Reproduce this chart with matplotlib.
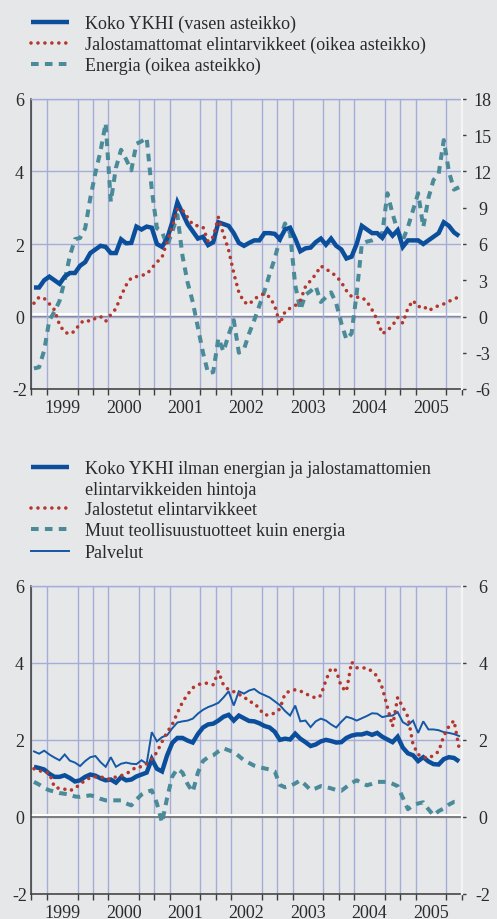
import matplotlib
matplotlib.use('Agg')
import matplotlib.pyplot as plt
from matplotlib.lines import Line2D
import matplotlib.patheffects as pe
import numpy as np

plt.rcParams['font.family'] = ['Liberation Serif', 'DejaVu Serif']
plt.rcParams['axes.unicode_minus'] = False
plt.rcParams['lines.scale_dashes'] = False

# ---------------- data ----------------
years = ['1999', '2000', '2001', '2002', '2003', '2004', '2005']

# top panel (monthly, Jan 1999 - Dec 2005)
koko_ykhi = [0.8, 0.8, 1.0, 1.1, 1.0, 0.9, 1.1, 1.2, 1.2, 1.4, 1.5, 1.75,
             1.85, 1.95, 1.92, 1.75, 1.75, 2.13, 2.02, 2.03, 2.48, 2.40, 2.48, 2.45,
             2.0, 1.92, 2.15, 2.6, 3.15, 2.85, 2.55, 2.35, 2.15, 2.2, 1.97, 2.05,
             2.6, 2.55, 2.5, 2.3, 2.03, 1.95, 2.03, 2.1, 2.1, 2.3, 2.3, 2.28,
             2.13, 2.4, 2.45, 2.15, 1.8, 1.88, 1.9, 2.05, 2.15, 1.98, 2.15, 1.95,
             1.85, 1.6, 1.65, 2.0, 2.5, 2.4, 2.3, 2.3, 2.17, 2.4, 2.23, 2.38,
             1.92, 2.1, 2.1, 2.1, 2.0, 2.1, 2.2, 2.3, 2.6, 2.5, 2.32, 2.22]

jalostamattomat = [1.1, 1.6, 1.5, 1.05, 0.55, -0.7, -1.3, -1.45, -1.2, -0.55, -0.3, -0.4,
                   -0.15, 0.0, -0.4, 0.15, 0.65, 1.7, 2.6, 3.2, 3.3, 3.4, 3.5, 4.0,
                   4.5, 4.9, 6.2, 7.4, 8.9, 8.8, 8.2, 7.6, 7.5, 7.4, 6.2, 6.6,
                   8.2, 6.8, 5.5, 3.6, 2.0, 1.2, 1.0, 1.45, 1.7, 1.9, 1.6, 0.9,
                   -0.6, 0.38, 0.69, 0.9, 1.32, 2.47, 2.97, 3.49, 4.18, 3.93, 3.65, 3.35,
                   2.83, 2.14, 1.65, 1.59, 1.59, 1.24, 0.55, -0.27, -1.43, -1.15, -0.74, -0.08,
                   -0.55, 0.69, 1.32, 0.8, 0.88, 0.49, 0.69, 0.91, 1.04, 1.26, 1.43, 1.65]

energia = [-4.3, -4.2, -2.8, -0.3, 0.4, 1.3, 3.0, 5.0, 6.4, 6.5, 7.3, 9.8,
           11.9, 13.7, 16.0, 9.5, 12.3, 13.8, 13.0, 12.1, 14.3, 14.5, 14.8, 10.5,
           7.3, 7.0, 5.9, 7.0, 8.4, 5.0, 2.8, 1.2, -0.9, -3.0, -4.7, -4.6,
           -1.8, -2.9, -1.5, -0.3, -3.0, -2.7, -1.4, -0.3, 0.9, 2.1, 3.5, 4.8,
           6.4, 7.7, 6.9, 2.6, 0.55, 1.8, 2.1, 2.5, 1.2, 1.6, 2.0, 1.1,
           -0.55, -1.9, -1.4, 1.9, 6.0, 6.2, 6.3, 6.5, 6.9, 10.2, 8.5, 7.1,
           6.3, 7.4, 8.8, 10.2, 7.4, 9.8, 11.3, 11.8, 14.6, 12.0, 10.5, 10.7]

# bottom panel
ydin = [1.30, 1.27, 1.23, 1.12, 1.04, 1.04, 1.08, 1.01, 0.92, 0.95, 1.04, 1.10,
        1.07, 1.0, 0.95, 0.97, 0.89, 1.03, 0.95, 0.97, 1.05, 1.1, 1.15, 1.5,
        1.25, 1.18, 1.6, 1.92, 2.05, 2.05, 1.98, 1.93, 2.15, 2.32, 2.4, 2.42,
        2.5, 2.6, 2.65, 2.5, 2.63, 2.56, 2.49, 2.48, 2.43, 2.36, 2.32, 2.21,
        2.0, 2.03, 2.01, 2.16, 2.03, 1.94, 1.84, 1.88, 1.96, 2.0, 1.97, 1.93,
        1.94, 2.05, 2.11, 2.14, 2.14, 2.18, 2.13, 2.18, 2.08, 2.01, 1.94, 2.08,
        1.8, 1.65, 1.6, 1.45, 1.55, 1.44, 1.37, 1.36, 1.5, 1.55, 1.53, 1.44]

jalostetut = [1.25, 1.2, 1.17, 1.14, 0.77, 0.74, 0.72, 0.68, 0.74, 0.85, 0.95, 1.02,
              1.04, 1.05, 0.98, 0.98, 1.04, 1.07, 1.12, 1.2, 1.3, 1.3, 1.38, 1.5,
              1.68, 1.95, 2.2, 2.4, 2.7, 2.98, 3.18, 3.35, 3.43, 3.47, 3.47, 3.43,
              3.78, 3.42, 3.3, 3.25, 3.18, 3.12, 2.99, 2.96, 2.8, 2.65, 2.64, 2.7,
              2.8, 3.2, 3.27, 3.3, 3.27, 3.19, 3.15, 3.08, 3.15, 3.55, 3.86, 3.8,
              3.38, 3.26, 4.02, 3.87, 3.87, 3.86, 3.78, 3.65, 3.35, 2.85, 2.35, 3.1,
              2.85, 2.6, 1.88, 1.62, 1.55, 1.52, 1.6, 1.7, 2.1, 2.35, 2.5, 1.78]

muut_teollisuus = [0.91, 0.84, 0.75, 0.69, 0.66, 0.62, 0.6, 0.58, 0.53, 0.52, 0.54, 0.56,
                   0.53, 0.47, 0.43, 0.43, 0.43, 0.43, 0.35, 0.3, 0.45, 0.58, 0.65, 0.69,
                   0.35, -0.15, 0.5, 1.05, 1.25, 1.15, 0.85, 0.65, 1.15, 1.45, 1.55, 1.6,
                   1.7, 1.78, 1.73, 1.68, 1.58, 1.47, 1.4, 1.33, 1.29, 1.26, 1.23, 1.18,
                   0.83, 0.77, 0.8, 0.87, 0.95, 0.83, 0.7, 0.74, 0.8, 0.78, 0.74, 0.7,
                   0.68, 0.78, 0.88, 0.95, 0.88, 0.82, 0.86, 0.91, 0.91, 0.91, 0.86, 0.8,
                   0.5, 0.2, 0.3, 0.35, 0.38, 0.2, 0.04, 0.15, 0.22, 0.32, 0.39, 0.39]

palvelut = [1.70, 1.64, 1.72, 1.62, 1.54, 1.47, 1.62, 1.46, 1.41, 1.32, 1.45, 1.55,
            1.58, 1.42, 1.3, 1.55, 1.3, 1.38, 1.41, 1.38, 1.37, 1.47, 1.38, 2.2,
            1.96, 2.07, 2.12, 2.3, 2.45, 2.48, 2.5, 2.55, 2.68, 2.78, 2.85, 2.9,
            2.96, 3.1, 3.26, 2.89, 3.26, 3.2, 3.28, 3.32, 3.22, 3.16, 3.1, 3.0,
            2.9, 2.75, 2.63, 2.89, 2.48, 2.5, 2.33, 2.48, 2.55, 2.5, 2.4, 2.32,
            2.47, 2.6, 2.56, 2.5, 2.56, 2.62, 2.69, 2.68, 2.59, 2.62, 2.63, 2.72,
            2.46, 2.38, 2.5, 2.18, 2.48, 2.27, 2.27, 2.25, 2.2, 2.18, 2.15, 2.1]

labels_top = ['Koko YKHI (vasen asteikko)',
              'Jalostamattomat elintarvikkeet (oikea asteikko)',
              'Energia (oikea asteikko)']
labels_bot = ['Koko YKHI ilman energian ja jalostamattomien\nelintarvikkeiden hintoja',
              'Jalostetut elintarvikkeet',
              'Muut teollisuustuotteet kuin energia',
              'Palvelut']

# ---------------- styles ----------------
W, H = 497, 920
BG = '#e6e7e9'
GRID = '#a4acd8'
TEXT = '#2a2a2a'
BLUE = '#0b4f9c'
BLUE_THIN = '#1458a6'
RED = '#b3372d'
TEAL = '#4b8b99'
FS = 13

thick = dict(color=BLUE, lw=3.2, solid_joinstyle='miter', solid_capstyle='butt')
thin = dict(color=BLUE_THIN, lw=1.4, solid_joinstyle='miter')
dots = dict(color=RED, lw=2.6, linestyle=(0, (0.01, 5.0)), dash_capstyle='round')
dashes = dict(color=TEAL, lw=2.9, linestyle=(0, (5.5, 4.5)), dash_capstyle='butt')

x = np.arange(len(koko_ykhi)) + 0.5

fig = plt.figure(figsize=(W / 100, H / 100), dpi=100, facecolor=BG)


def rect(left_px, top_px, right_px, bottom_px):
    return [left_px / W, 1 - bottom_px / H, (right_px - left_px) / W, (bottom_px - top_px) / H]


def setup_x(ax):
    ax.set_xlim(0, 84)
    ax.set_xticks(np.arange(6, 84, 12))
    ax.set_xticklabels(years)
    ax.set_xticks(np.arange(0, 85, 3), minor=True)
    ax.tick_params(axis='x', which='major', length=0, pad=7.5, labelsize=FS, labelcolor=TEXT)
    ax.tick_params(axis='x', which='minor', length=4, width=1.0, color='#3c3c3c', direction='out')


def zero_line(ax):
    ax.axhline(0, color='#7d7d7d', lw=1.4, zorder=1.5,
               path_effects=[pe.SimpleLineShadow(offset=(0, 1.5), shadow_color='white', alpha=1.0),
                             pe.Normal()])


def style_spines(ax, left=False, bottom=False, top=False, right=False):
    for s in ax.spines.values():
        s.set_visible(False)
    if left:
        ax.spines['left'].set_visible(True)
        ax.spines['left'].set_color('#3a3a3a')
        ax.spines['left'].set_linewidth(1.1)
    if bottom:
        ax.spines['bottom'].set_visible(True)
        ax.spines['bottom'].set_color('#3a3a3a')
        ax.spines['bottom'].set_linewidth(1.1)
    if top:
        ax.spines['top'].set_visible(True)
        ax.spines['top'].set_color(GRID)
        ax.spines['top'].set_linewidth(1.0)
    if right:
        ax.spines['right'].set_visible(True)
        ax.spines['right'].set_color('#f4f4f4')
        ax.spines['right'].set_linewidth(1.6)


# ---------------- top panel ----------------
axL = fig.add_axes(rect(31.4, 100, 461.7, 390))
axT = axL.twinx()
axR = axL.twinx()
axT.set_zorder(0)
axL.set_zorder(1)
axR.set_zorder(2)
axT.patch.set_visible(True)
axT.patch.set_facecolor(BG)
axL.patch.set_visible(False)
axR.patch.set_visible(False)

setup_x(axL)
axT.xaxis.set_visible(True)
axT.tick_params(axis='x', which='both', length=0, labelbottom=False, labeltop=False)
axT.grid(True, axis='x', which='minor', color=GRID, lw=1.0)
axT.set_ylim(-6, 18)
axT.set_yticks([-6, 0, 6, 12, 18])
axT.tick_params(axis='y', length=0, labelright=False, labelleft=False)
axT.grid(True, axis='y', which='major', color=GRID, lw=1.0)
zero_line(axT)
axT.plot(x, energia, zorder=2, **dashes)

axL.set_ylim(-2, 6)
axL.set_yticks([-2, 0, 2, 4, 6])
axL.tick_params(axis='y', length=0, pad=8.7, labelsize=FS, labelcolor=TEXT)
plt.setp(axL.get_yticklabels(), ha='center')
axL.plot(x, koko_ykhi, zorder=3, **thick)

axR.set_ylim(-6, 18)
axR.set_yticks(np.arange(-6, 19, 3))
axR.tick_params(axis='y', length=3, width=1.0, color='#3c3c3c', pad=12.1,
                labelsize=FS, labelcolor=TEXT)
plt.setp(axR.get_yticklabels(), ha='center')
axR.plot(x, jalostamattomat, zorder=4, **dots)

style_spines(axT)
style_spines(axL, left=True, bottom=True, top=True)
style_spines(axR, right=True)

# ---------------- bottom panel ----------------
axB = fig.add_axes(rect(31.4, 586.7, 461.7, 895))
axB.set_facecolor(BG)
setup_x(axB)
axB.set_ylim(-2, 6)
axB.set_yticks([-2, 0, 2, 4, 6])
axB.tick_params(axis='y', length=0, pad=8.7, labelsize=FS, labelcolor=TEXT)
plt.setp(axB.get_yticklabels(), ha='center')
axB.grid(True, axis='x', which='minor', color=GRID, lw=1.0)
axB.grid(True, axis='y', which='major', color=GRID, lw=1.0)
axB.set_axisbelow(True)
zero_line(axB)
axB.plot(x, muut_teollisuus, zorder=2, **dashes)
axB.plot(x, palvelut, zorder=3, **thin)
axB.plot(x, ydin, zorder=3.5, **thick)
axB.plot(x, jalostetut, zorder=4, **dots)
style_spines(axB, left=True, bottom=True, top=True)

axB2 = axB.twinx()
axB2.set_ylim(-2, 6)
axB2.set_yticks([-2, 0, 2, 4, 6])
axB2.tick_params(axis='y', length=3, width=1.0, color='#3c3c3c', pad=12.1,
                 labelsize=FS, labelcolor=TEXT)
plt.setp(axB2.get_yticklabels(), ha='center')
style_spines(axB2, right=True)


# ---------------- legends ----------------
def legend_entry(y_px, style, label, x0=31, x1=69, xt=85):
    fig.add_artist(Line2D([x0 / W, x1 / W], [1 - y_px / H] * 2,
                          transform=fig.transFigure, **style))
    fig.text(xt / W, 1 - y_px / H, label, ha='left', va='center_baseline',
             fontsize=FS, color=TEXT, linespacing=1.1)


legend_entry(22.7, thick, labels_top[0])
legend_entry(43.5, dots, labels_top[1])
legend_entry(64.5, dashes, labels_top[2])

# first bottom entry: two-line label, handle aligned with first line
fig.add_artist(Line2D([31 / W, 69 / W], [1 - 468 / H] * 2, transform=fig.transFigure, **thick))
fig.text(85 / W, 1 - 468 / H, labels_bot[0].split('\n')[0], ha='left', va='center_baseline',
         fontsize=FS, color=TEXT)
fig.text(85 / W, 1 - 488.5 / H, labels_bot[0].split('\n')[1], ha='left', va='center_baseline',
         fontsize=FS, color=TEXT)
legend_entry(509, dots, labels_bot[1])
legend_entry(530, dashes, labels_bot[2])
legend_entry(552, thin, labels_bot[3])

fig.savefig('out.png', dpi=100, facecolor=BG)
